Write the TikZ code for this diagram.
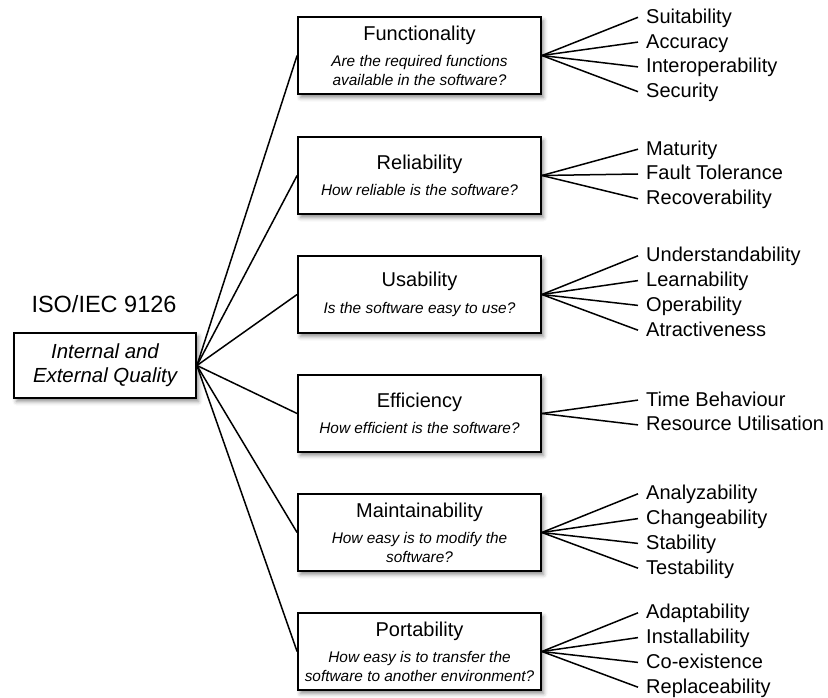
\documentclass[tikz,border=0pt]{standalone}
\usepackage{fontspec}
\setmainfont{Liberation Sans}
\usetikzlibrary{shadows.blur}
\newcommand\ttlf{\fontsize{20}{24}\selectfont}
\newcommand\subf{\fontsize{15.4}{18.5}\selectfont\itshape}
\begin{document}
\begin{tikzpicture}[x=1pt,y=-1pt,
  shadowed/.style={blur shadow={shadow xshift=2.5pt, shadow yshift=-3.5pt,
      shadow blur radius=4pt, shadow opacity=45}},
  qbox/.style={draw, line width=1.8pt, fill=white, minimum width=243pt,
      minimum height=77pt, inner sep=0pt, align=center, font=\subf, shadowed},
  rootbox/.style={draw, line width=1.8pt, fill=white, minimum width=182pt,
      minimum height=65pt, inner sep=0pt, align=center,
      font=\fontsize{20.4}{24}\selectfont\itshape, shadowed},
  attr/.style={anchor=west, inner xsep=8pt, inner ysep=0pt, font=\ttlf,
      text height=16pt, text depth=4pt},
  link/.style={line width=1.5pt}]
\useasboundingbox (0,0) rectangle (828,698);

% standard name and the quality model it defines
\node[font=\fontsize{23.5}{28}\selectfont] (std) at (104,304) {ISO/IEC 9126};
\node[rootbox] (root) at (105,365.5) {Internal and\\External Quality};

% characteristics
\node[qbox] (fun) at (419.5,55.5)
  {{\upshape\ttlf Functionality}\\[8pt]Are the required functions\\available in the software?};
\node[qbox] (rel) at (419.5,175.5)
  {{\upshape\ttlf Reliability}\\[8pt]How reliable is the software?};
\node[qbox] (usa) at (419.5,294.5)
  {{\upshape\ttlf Usability}\\[8pt]Is the software easy to use?};
\node[qbox] (eff) at (419.5,413.5)
  {{\upshape\ttlf Efficiency}\\[8pt]How efficient is the software?};
\node[qbox] (mai) at (419.5,532.5)
  {{\upshape\ttlf Maintainability}\\[8pt]How easy is to modify the\\software?};
\node[qbox] (por) at (419.5,651.5)
  {{\upshape\ttlf Portability}\\[8pt]How easy is to transfer the\\software to another environment?};

\foreach \c in {fun,rel,usa,eff,mai,por}
  \draw[link] (root.east) -- (\c.west);

% sub-characteristics
\foreach \t [count=\i] in {Suitability,Accuracy,Interoperability,Security} {
  \node[attr] (fun-\i) at (638,{54.5+(\i-2.5)*24.8}) {\t};
  \draw[link] (fun.east) -- (fun-\i.west);
}
\foreach \t [count=\i] in {Maturity,Fault Tolerance,Recoverability} {
  \node[attr] (rel-\i) at (638,{174+(\i-2)*24.8}) {\t};
  \draw[link] (rel.east) -- (rel-\i.west);
}
\foreach \t [count=\i] in {Understandability,Learnability,Operability,Atractiveness} {
  \node[attr] (usa-\i) at (638,{293+(\i-2.5)*24.8}) {\t};
  \draw[link] (usa.east) -- (usa-\i.west);
}
\foreach \t [count=\i] in {Time Behaviour,Resource Utilisation} {
  \node[attr] (eff-\i) at (638,{412.5+(\i-1.5)*24.8}) {\t};
  \draw[link] (eff.east) -- (eff-\i.west);
}
\foreach \t [count=\i] in {Analyzability,Changeability,Stability,Testability} {
  \node[attr] (mai-\i) at (638,{531+(\i-2.5)*24.8}) {\t};
  \draw[link] (mai.east) -- (mai-\i.west);
}
\foreach \t [count=\i] in {Adaptability,Installability,Co-existence,Replaceability} {
  \node[attr] (por-\i) at (638,{650+(\i-2.5)*24.8}) {\t};
  \draw[link] (por.east) -- (por-\i.west);
}
\end{tikzpicture}
\end{document}
